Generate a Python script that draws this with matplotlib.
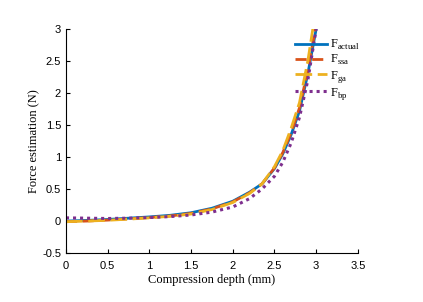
import matplotlib
matplotlib.use("Agg")
import matplotlib.pyplot as plt

# compression depth (mm) and force (N)
x_actual = [0, 0.25, 0.5, 0.75, 1.0, 1.25, 1.5, 1.75, 2.0, 2.2, 2.35, 2.5, 2.6, 2.7, 2.8, 2.9, 3.0]
f_actual = [0, 0.01, 0.025, 0.045, 0.065, 0.09, 0.13, 0.2, 0.31, 0.45, 0.58, 0.82, 1.05, 1.35, 1.72, 2.3, 3.0]

x_ssa = [0, 0.25, 0.5, 0.75, 1.0, 1.25, 1.5, 1.75, 2.0, 2.2, 2.35, 2.5, 2.6, 2.7, 2.8, 2.9, 2.99]
f_ssa = [-0.01, 0.0, 0.015, 0.035, 0.055, 0.08, 0.12, 0.19, 0.3, 0.44, 0.58, 0.83, 1.07, 1.38, 1.77, 2.35, 3.0]

x_ga = [0, 0.25, 0.5, 0.75, 1.0, 1.25, 1.5, 1.75, 2.0, 2.2, 2.35, 2.5, 2.6, 2.7, 2.8, 2.9, 2.96]
f_ga = [-0.01, 0.0, 0.012, 0.03, 0.05, 0.075, 0.11, 0.18, 0.29, 0.43, 0.58, 0.85, 1.1, 1.45, 1.85, 2.5, 3.0]

x_bp = [0, 0.25, 0.5, 0.75, 1.0, 1.25, 1.5, 1.75, 2.0, 2.2, 2.35, 2.5, 2.6, 2.7, 2.8, 2.9, 3.0]
f_bp = [0.05, 0.045, 0.04, 0.045, 0.055, 0.07, 0.095, 0.14, 0.22, 0.35, 0.5, 0.7, 0.92, 1.22, 1.62, 2.2, 3.0]

plt.rcParams['font.family'] = ['Liberation Sans', 'DejaVu Sans']
plt.rcParams['mathtext.fontset'] = 'custom'
plt.rcParams['mathtext.rm'] = 'Liberation Serif'

fig = plt.figure(figsize=(4.23, 3.02), dpi=100)
ax = fig.add_axes([0.156, 0.162, 0.69, 0.742])

ax.plot(x_actual, f_actual, color='#0072BD', lw=2.0, label=r'F$_{\rm actual}$')
ax.plot(x_ssa, f_ssa, color='#D95319', lw=2.0, ls=(0, (4, 2)), label=r'F$_{\rm ssa}$')
ax.plot(x_ga, f_ga, color='#EDB120', lw=2.0, ls=(0, (6, 2)), label=r'F$_{\rm ga}$')
ax.plot(x_bp, f_bp, color='#7E2F8E', lw=2.2, ls=(0, (1, 1.3)), label=r'F$_{\rm bp}$')

ax.set_xlim(0, 3.5)
ax.set_ylim(-0.5, 3)
ax.set_xticks([0, 0.5, 1, 1.5, 2, 2.5, 3, 3.5])
ax.set_xticklabels(['0', '0.5', '1', '1.5', '2', '2.5', '3', '3.5'])
ax.set_yticks([-0.5, 0, 0.5, 1, 1.5, 2, 2.5, 3])
ax.set_yticklabels(['-0.5', '0', '0.5', '1', '1.5', '2', '2.5', '3'])
ax.tick_params(direction='in', length=3, labelsize=8, width=0.8)
ax.tick_params(axis='x', pad=6)
ax.spines['top'].set_visible(False)
ax.spines['right'].set_visible(False)

ax.set_xlabel('Compression depth (mm)', family='Liberation Serif', fontsize=9, labelpad=2)
ax.set_ylabel('Force estimation (N)', family='Liberation Serif', fontsize=9, labelpad=1)

leg = ax.legend(loc='upper right', bbox_to_anchor=(1.045, 1.01), frameon=False,
                handlelength=2.6, handletextpad=0.2, labelspacing=0.1,
                prop={'family': 'Liberation Serif', 'size': 9})

fig.savefig('out.png', dpi=100)
